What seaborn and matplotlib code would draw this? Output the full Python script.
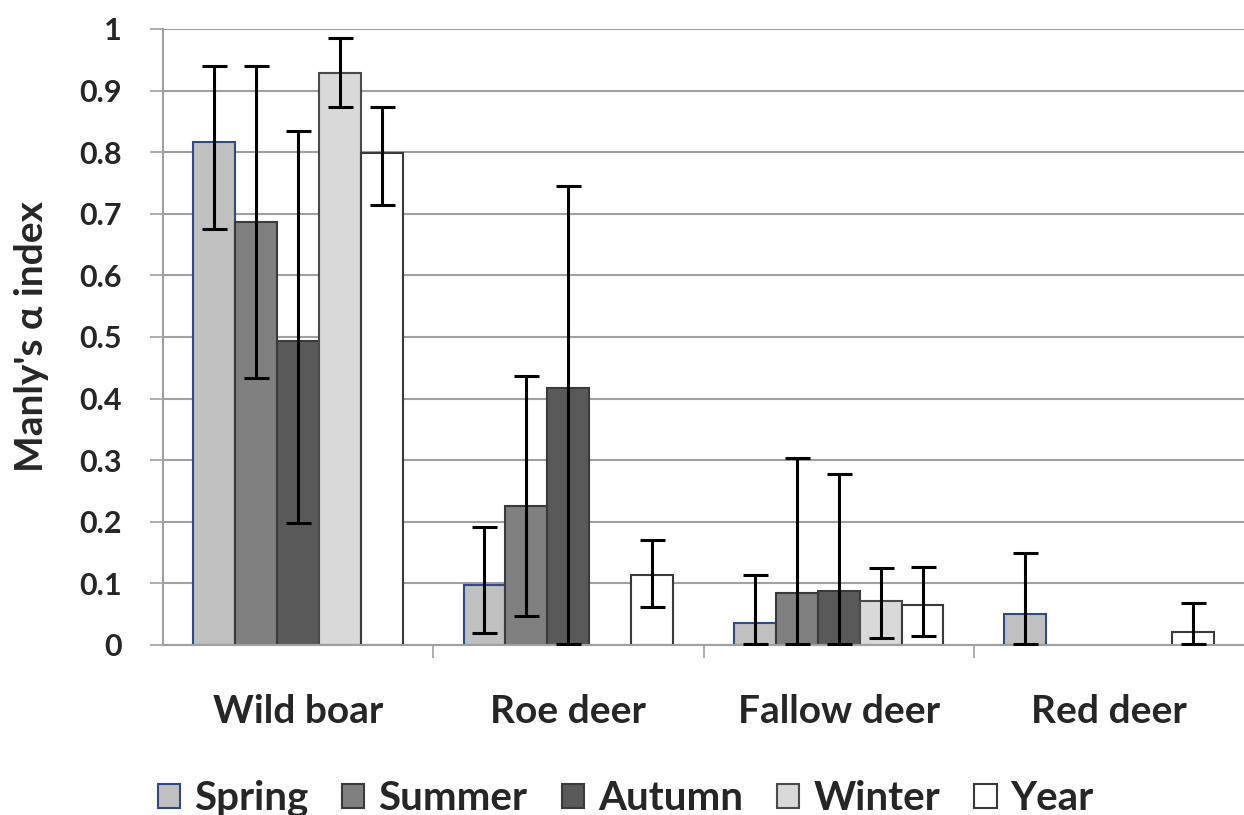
import matplotlib
matplotlib.use("Agg")
import matplotlib.pyplot as plt
import seaborn as sns
import pandas as pd
import numpy as np
from matplotlib.patches import Patch

species = ["Wild boar", "Roe deer", "Fallow deer", "Red deer"]
seasons = ["Spring", "Summer", "Autumn", "Winter", "Year"]

spring = [0.816, 0.097, 0.036, 0.051]
summer = [0.686, 0.226, 0.085, 0.0]
autumn = [0.494, 0.418, 0.087, 0.0]
winter = [0.928, 0.0, 0.071, 0.0]
year = [0.798, 0.114, 0.065, 0.021]

spring_hi = [0.940, 0.192, 0.113, 0.150]
summer_hi = [0.940, 0.436, 0.304, 0.0]
autumn_hi = [0.834, 0.745, 0.278, 0.0]
winter_hi = [0.985, 0.0, 0.125, 0.0]
year_hi = [0.874, 0.171, 0.127, 0.068]

spring_lo = [0.675, 0.020, 0.001, 0.001]
summer_lo = [0.433, 0.047, 0.001, 0.0]
autumn_lo = [0.198, 0.001, 0.001, 0.0]
winter_lo = [0.874, 0.0, 0.012, 0.0]
year_lo = [0.714, 0.062, 0.014, 0.001]

vals = [spring, summer, autumn, winter, year]
his = [spring_hi, summer_hi, autumn_hi, winter_hi, year_hi]
los = [spring_lo, summer_lo, autumn_lo, winter_lo, year_lo]

face = ["#c0c0c0", "#808080", "#595959", "#d9d9d9", "#ffffff"]
edge = ["#2f4a8a", "#3a3a3a", "#3a3a3a", "#4a4a4a", "#3a3a3a"]

rows = []
for s, v in zip(seasons, vals):
    for sp, val in zip(species, v):
        rows.append({"species": sp, "season": s, "value": val})
df = pd.DataFrame(rows)

sns.set_theme(style="white")
plt.rcParams["font.family"] = ["Lato", "DejaVu Sans"]
plt.rcParams["font.weight"] = "bold"

fig = plt.figure(figsize=(12.44, 8.15), dpi=100)
ax = fig.add_axes([163/1244, 1-645/815, 1-163/1244, (645-29)/815])

sns.barplot(data=df, x="species", y="value", hue="season", order=species,
            hue_order=seasons, palette=face, width=0.776, gap=0,
            errorbar=None, ax=ax, legend=False, zorder=2)

bar_containers = list(ax.containers)
for i, cont in enumerate(bar_containers):
    for j, bar in enumerate(cont.patches):
        bar.set_edgecolor(edge[i])
        bar.set_linewidth(1.5)
        if vals[i][j] == 0:
            bar.set_visible(False)
            continue
        xc = bar.get_x() + bar.get_width() / 2
        v = vals[i][j]
        ax.errorbar(xc, v, yerr=[[v - los[i][j]], [his[i][j] - v]], fmt="none",
                    ecolor="black", elinewidth=2.2, capsize=9, capthick=2.2, zorder=3)

ax.set_xlim(-0.5, 3.5)
ax.set_ylim(0, 1)
ax.set_yticks(np.arange(0, 1.01, 0.1))
ax.set_yticklabels(["0", "0.1", "0.2", "0.3", "0.4", "0.5", "0.6", "0.7", "0.8", "0.9", "1"])
ax.yaxis.grid(True, color="#a0a0a0", linewidth=1.5, zorder=0)
ax.set_axisbelow(True)
for s in ["top", "right"]:
    ax.spines[s].set_visible(False)
ax.spines["left"].set_color("#a0a0a0")
ax.spines["bottom"].set_color("#a0a0a0")
ax.spines["left"].set_linewidth(1.5)
ax.spines["bottom"].set_linewidth(1.5)

ax.tick_params(axis="y", left=True, length=9.5, width=1.2, color="#a0a0a0", labelsize=22, pad=20)
ax.set_xticks([0.5, 1.5, 2.5], minor=True)
ax.tick_params(axis="x", which="minor", bottom=True, length=9, color="#a0a0a0", width=1.2)
ax.tick_params(axis="x", which="major", bottom=False, labelsize=28, pad=29)
for lab in ax.get_xticklabels() + ax.get_yticklabels():
    lab.set_fontweight("bold")

ax.set_xlabel("")
ax.set_ylabel("Manly's α index", fontsize=28, fontweight="bold", labelpad=22)

handles = [Patch(facecolor=face[i], edgecolor=edge[i], linewidth=1.5) for i in range(5)]
leg = fig.legend(handles, seasons, loc="center", bbox_to_anchor=(0.503, 0.02), ncol=5,
                 frameon=False, handlelength=0.55, handleheight=0.55,
                 handletextpad=0.35, columnspacing=0.85, prop={"weight": "bold", "size": 29})

fig.savefig("out.png", dpi=100)
